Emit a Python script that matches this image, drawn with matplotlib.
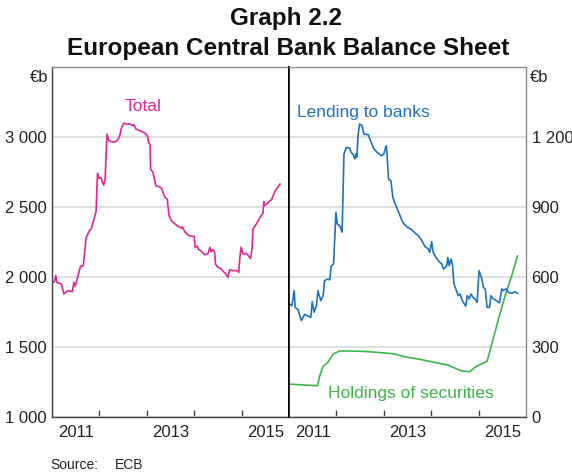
import matplotlib
matplotlib.use("Agg")
import matplotlib.pyplot as plt
from matplotlib.ticker import FixedLocator, FuncFormatter

plt.rcParams['font.family'] = ['Liberation Sans', 'DejaVu Sans']

# ---- data (year fraction, € billions) ----
total_dates = [2011.00, 2011.05, 2011.08, 2011.10, 2011.20, 2011.25, 2011.30, 2011.34, 2011.43, 2011.46,
               2011.49, 2011.55, 2011.60, 2011.66, 2011.72, 2011.79, 2011.83, 2011.87, 2011.93, 2011.96,
               2011.99, 2012.03, 2012.09, 2012.12, 2012.16, 2012.20, 2012.29, 2012.36, 2012.42, 2012.47,
               2012.52, 2012.59, 2012.64, 2012.70, 2012.73, 2012.77, 2012.85, 2012.96, 2013.01, 2013.04,
               2013.07, 2013.08, 2013.13, 2013.19, 2013.26, 2013.31, 2013.38, 2013.43, 2013.47, 2013.52,
               2013.59, 2013.66, 2013.73, 2013.75, 2013.80, 2013.87, 2013.93, 2014.00, 2014.02, 2014.07,
               2014.09, 2014.15, 2014.22, 2014.29, 2014.33, 2014.36, 2014.40, 2014.43, 2014.45, 2014.50,
               2014.57, 2014.63, 2014.66, 2014.71, 2014.75, 2014.82, 2014.89, 2014.94, 2014.96, 2014.99,
               2015.03, 2015.10, 2015.15, 2015.19, 2015.22, 2015.24, 2015.31, 2015.41, 2015.45, 2015.47,
               2015.48, 2015.52, 2015.63, 2015.71, 2015.76, 2015.81]
total_values = [1962, 1965, 2010, 1962, 1950, 1879, 1895, 1902, 1895, 1962,
                1935, 2010, 2076, 2080, 2283, 2331, 2345, 2395, 2467, 2740,
                2705, 2710, 2657, 2690, 3021, 2974, 2962, 2970, 3000, 3069,
                3100, 3090, 3095, 3080, 3090, 3057, 3045, 3028, 3010, 2962,
                2940, 2771, 2748, 2652, 2645, 2635, 2569, 2555, 2438, 2402,
                2380, 2362, 2350, 2358, 2324, 2300, 2292, 2290, 2212, 2220,
                2198, 2185, 2159, 2166, 2212, 2180, 2195, 2175, 2093, 2069,
                2057, 2033, 2025, 1998, 2052, 2045, 2047, 2033, 2129, 2212,
                2164, 2169, 2150, 2131, 2200, 2343, 2378, 2438, 2455, 2538,
                2510, 2520, 2552, 2616, 2638, 2664]

lending_dates = [2011.01, 2011.06, 2011.11, 2011.13, 2011.19, 2011.26, 2011.33, 2011.40, 2011.46, 2011.49,
                 2011.53, 2011.58, 2011.61, 2011.67, 2011.72, 2011.75, 2011.81, 2011.86, 2011.89, 2011.94,
                 2011.99, 2012.02, 2012.07, 2012.12, 2012.16, 2012.21, 2012.28, 2012.31, 2012.35, 2012.39,
                 2012.41, 2012.43, 2012.46, 2012.49, 2012.54, 2012.58, 2012.67, 2012.72, 2012.79, 2012.86,
                 2012.95, 2013.00, 2013.05, 2013.07, 2013.10, 2013.15, 2013.19, 2013.24, 2013.30, 2013.37,
                 2013.41, 2013.50, 2013.59, 2013.66, 2013.73, 2013.80, 2013.87, 2013.94, 2013.97, 2014.01,
                 2014.04, 2014.10, 2014.15, 2014.22, 2014.26, 2014.33, 2014.35, 2014.38, 2014.42, 2014.45,
                 2014.48, 2014.52, 2014.57, 2014.61, 2014.64, 2014.68, 2014.73, 2014.76, 2014.80, 2014.84,
                 2014.88, 2014.92, 2014.97, 2014.99, 2015.01, 2015.07, 2015.10, 2015.14, 2015.16, 2015.18,
                 2015.23, 2015.26, 2015.31, 2015.38, 2015.44, 2015.49, 2015.52, 2015.58, 2015.63, 2015.70,
                 2015.77, 2015.82]
lending_values = [484, 477, 541, 470, 460, 413, 440, 432, 427, 494,
                  449, 477, 541, 499, 520, 584, 591, 588, 646, 656,
                  877, 827, 820, 792, 1127, 1156, 1152, 1134, 1127, 1106,
                  1127, 1113, 1213, 1256, 1249, 1213, 1210, 1184, 1149, 1134,
                  1120, 1127, 1163, 1120, 1020, 1013, 942, 913, 884, 849,
                  831, 813, 803, 788, 777, 756, 730, 720, 706, 751,
                  706, 684, 670, 656, 634, 649, 684, 649, 677, 649,
                  570, 549, 520, 527, 506, 491, 475, 520, 506, 527,
                  513, 506, 491, 563, 627, 591, 556, 549, 506, 470,
                  470, 520, 506, 499, 489, 549, 542, 549, 534, 530,
                  537, 530]

securities_dates = [2011.01, 2011.60, 2011.65, 2011.72, 2011.82, 2011.93, 2012.07, 2012.21, 2012.60, 2013.05,
                    2013.23, 2013.44, 2013.79, 2014.14, 2014.35, 2014.63, 2014.81, 2014.95, 2015.18, 2015.27,
                    2015.42, 2015.56, 2015.70, 2015.82]
securities_values = [141, 134, 177, 217, 234, 270, 283, 283, 281, 274,
                     270, 258, 246, 231, 223, 198, 194, 217, 239, 306,
                     420, 520, 606, 690]

left_ticks = [1000, 1500, 2000, 2500, 3000]
right_ticks = [0, 300, 600, 900, 1200]
year_ticks = [2012, 2013, 2014, 2015]
year_label_pos = [2011.5, 2013.5, 2015.5]
year_labels = ['2011', '2013', '2015']

# ---- styling ----
C_TOTAL = '#e2288f'
C_LEND = '#1f73bb'
C_SEC = '#3cb54a'
GRID = '#d9d9d9'
DARK = '#404040'
FRAME = '#8c8c8c'

W, H = 572, 473
fig = plt.figure(figsize=(W / 100, H / 100), dpi=100)

def frac(x0, y0, x1, y1):
    return [x0 / W, 1 - y1 / H, (x1 - x0) / W, (y1 - y0) / H]

axL = fig.add_axes(frac(52, 67, 289, 417))
axR = fig.add_axes(frac(289, 67, 526, 417))

fmt = FuncFormatter(lambda v, p: f"{int(v):,}".replace(",", " "))

for ax in (axL, axR):
    ax.set_xlim(2011, 2016)
    ax.xaxis.set_major_locator(FixedLocator(year_ticks))
    ax.xaxis.set_minor_locator(FixedLocator(year_label_pos))
    ax.xaxis.set_minor_formatter(FuncFormatter(lambda v, p: year_labels[year_label_pos.index(v)] if v in year_label_pos else ''))
    ax.tick_params(axis='x', which='major', direction='in', length=5, width=1, color=DARK, labelbottom=False)
    ax.tick_params(axis='x', which='minor', length=0, labelsize=12, pad=6, colors='#222222')
    ax.grid(axis='y', color=GRID, linewidth=1.2)
    ax.set_axisbelow(True)
    ax.spines['bottom'].set_color(DARK)
    ax.spines['top'].set_color(FRAME)
    for s in ax.spines.values():
        s.set_linewidth(1.0)

axL.set_ylim(1000, 3500)
axL.set_yticks(left_ticks)
axL.yaxis.set_major_formatter(fmt)
axL.tick_params(axis='y', length=0, pad=4, labelsize=12, colors='#222222')
axL.spines['left'].set_color(DARK)
axL.spines['right'].set_color('black')
axL.spines['right'].set_linewidth(1.2)

axR.set_ylim(0, 1500)
axR.set_yticks(right_ticks)
axR.yaxis.set_major_formatter(fmt)
axR.yaxis.tick_right()
axR.tick_params(axis='y', length=0, pad=4, labelsize=12, colors='#222222')
axR.spines['left'].set_color('black')
axR.spines['left'].set_linewidth(1.2)
axR.spines['right'].set_color(FRAME)

axL.plot(total_dates, total_values, color=C_TOTAL, lw=1.2)
axR.plot(securities_dates, securities_values, color=C_SEC, lw=1.2)
axR.plot(lending_dates, lending_values, color=C_LEND, lw=1.2)

axL.text(2012.92, 3220, 'Total', color=C_TOTAL, fontsize=12.5, ha='center', va='center')
axR.text(2011.17, 1305, 'Lending to banks', color=C_LEND, fontsize=12.5, ha='left', va='center')
axR.text(2011.82, 99, 'Holdings of securities', color=C_SEC, fontsize=12.5, ha='left', va='center')

fig.text(48 / W, 1 - 77 / H, '€b', fontsize=12, ha='right', va='center', color='#222222')
fig.text(530 / W, 1 - 77 / H, '€b', fontsize=12, ha='left', va='center', color='#222222')

fig.text(286 / W, 1 - 18 / H, 'Graph 2.2', fontsize=17.5, fontweight='bold', ha='center', va='center', color='#111111')
fig.text(288 / W, 1 - 48 / H, 'European Central Bank Balance Sheet', fontsize=17.5, fontweight='bold',
         ha='center', va='center', color='#111111')

fig.text(50 / W, 1 - 465 / H, 'Source:', fontsize=10, ha='left', va='center', color='#222222')
fig.text(115 / W, 1 - 465 / H, 'ECB', fontsize=10, ha='left', va='center', color='#222222')

fig.savefig('out.png', dpi=100)
